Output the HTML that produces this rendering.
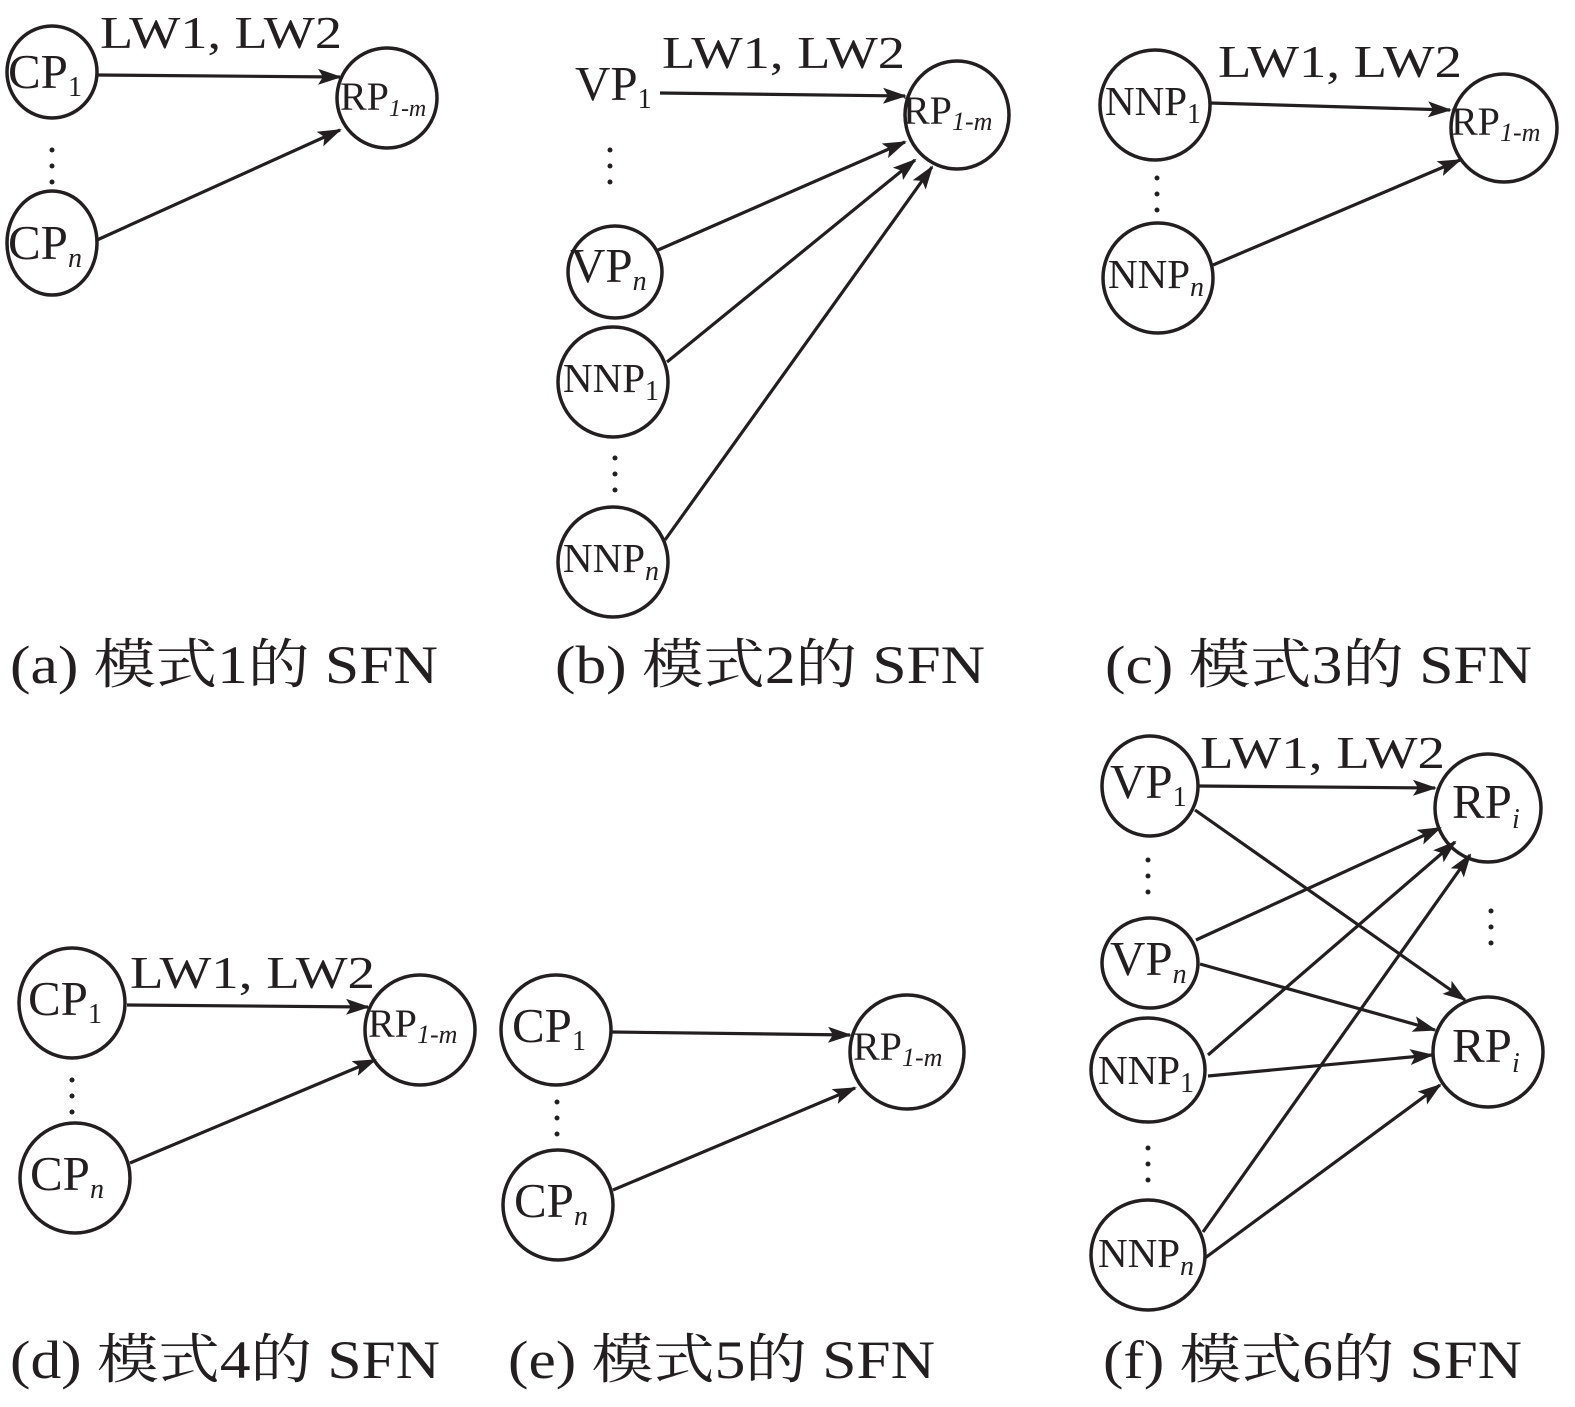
<!DOCTYPE html>
<html><head><meta charset="utf-8"><style>
html,body{margin:0;padding:0;background:#fff}
svg{display:block}
text{font-family:"Liberation Serif","Noto Serif CJK SC",serif;fill:#231f20}
.c{fill:none;stroke:#231f20;stroke-width:3.5}
.l{stroke:#231f20;stroke-width:3.2;marker-end:url(#b)}
.n{font-size:49px}
.s{font-size:28px}
.i{font-style:italic}
.cap{font-size:54px}
.lw{font-size:46px}
.nn{font-size:41px}
.rp{font-size:40px}
</style></head><body>
<svg width="1575" height="1407" viewBox="0 0 1575 1407" xmlns="http://www.w3.org/2000/svg">
<defs>
<marker id="b" markerWidth="24" markerHeight="16" refX="22" refY="8" orient="auto" markerUnits="userSpaceOnUse"><path d="M0,0 L24,8 L0,16 L5,8 z" fill="#231f20"/></marker></defs>

<!-- (a) -->
<ellipse class="c" cx="52" cy="72" rx="45" ry="46"/>
<text x="8" y="88" class="n">CP<tspan class="s" dy="8">1</tspan></text>
<ellipse class="c" cx="52" cy="243" rx="45" ry="52"/>
<text x="8" y="259" class="n">CP<tspan class="s i" dy="8">n</tspan></text>
<ellipse class="c" cx="387" cy="98" rx="50" ry="50"/>
<text x="340" y="110" class="rp">RP<tspan class="i" style="font-size:24px" dy="6">1-m</tspan></text>
<line class="l" x1="97" y1="75" x2="340" y2="77"/>
<line class="l" x1="97" y1="240" x2="340" y2="130"/>
<text x="100" y="48" class="lw" textLength="242" lengthAdjust="spacingAndGlyphs">LW1, LW2</text>
<g fill="#231f20"><circle cx="52" cy="150" r="2.5"/><circle cx="52" cy="166" r="2.5"/><circle cx="52" cy="182" r="2.5"/></g>
<text x="10" y="683" class="cap" textLength="428" lengthAdjust="spacingAndGlyphs">(a) 模式1的 SFN</text>

<!-- (b) -->
<text x="575" y="100" class="n">VP<tspan class="s" dy="8">1</tspan></text>
<ellipse class="c" cx="957" cy="115" rx="52" ry="54"/>
<text x="903" y="124" class="rp">RP<tspan class="i" style="font-size:26px" dy="6">1-m</tspan></text>
<line class="l" x1="660" y1="93" x2="905" y2="96"/>
<text x="662" y="68" class="lw" textLength="243" lengthAdjust="spacingAndGlyphs">LW1, LW2</text>
<g fill="#231f20"><circle cx="610" cy="150" r="2.5"/><circle cx="610" cy="166" r="2.5"/><circle cx="610" cy="182" r="2.5"/>
<circle cx="615" cy="458" r="2.5"/><circle cx="615" cy="474" r="2.5"/><circle cx="615" cy="490" r="2.5"/></g>
<ellipse class="c" cx="615" cy="272" rx="47" ry="46"/>
<text x="570" y="282" class="n">VP<tspan class="s i" dy="8">n</tspan></text>
<ellipse class="c" cx="613" cy="382" rx="55" ry="55"/>
<text x="563" y="392" class="nn">NNP<tspan class="s" dy="8">1</tspan></text>
<ellipse class="c" cx="613" cy="562" rx="55" ry="55"/>
<text x="563" y="572" class="nn">NNP<tspan class="s i" dy="8">n</tspan></text>
<line class="l" x1="658" y1="250" x2="905" y2="142"/>
<line class="l" x1="667" y1="362" x2="915" y2="160"/>
<line class="l" x1="665" y1="540" x2="932" y2="167"/>
<text x="555" y="683" class="cap" textLength="430" lengthAdjust="spacingAndGlyphs">(b) 模式2的 SFN</text>

<!-- (c) -->
<ellipse class="c" cx="1155" cy="105" rx="55" ry="55"/>
<text x="1105" y="115" class="nn">NNP<tspan class="s" dy="8">1</tspan></text>
<ellipse class="c" cx="1158" cy="278" rx="55" ry="55"/>
<text x="1108" y="288" class="nn">NNP<tspan class="s i" dy="8">n</tspan></text>
<ellipse class="c" cx="1504" cy="128" rx="53" ry="54"/>
<text x="1451" y="135" class="rp">RP<tspan class="i" style="font-size:26px" dy="6">1-m</tspan></text>
<line class="l" x1="1210" y1="103" x2="1450" y2="110"/>
<line class="l" x1="1213" y1="265" x2="1460" y2="160"/>
<text x="1218" y="77" class="lw" textLength="244" lengthAdjust="spacingAndGlyphs">LW1, LW2</text>
<g fill="#231f20"><circle cx="1157" cy="178" r="2.5"/><circle cx="1157" cy="194" r="2.5"/><circle cx="1157" cy="210" r="2.5"/></g>
<text x="1105" y="683" class="cap" textLength="427" lengthAdjust="spacingAndGlyphs">(c) 模式3的 SFN</text>

<!-- (d) -->
<ellipse class="c" cx="72" cy="1003" rx="53" ry="55"/>
<text x="28" y="1015" class="n">CP<tspan class="s" dy="8">1</tspan></text>
<ellipse class="c" cx="75" cy="1178" rx="55" ry="55"/>
<text x="30" y="1190" class="n">CP<tspan class="s i" dy="8">n</tspan></text>
<ellipse class="c" cx="420" cy="1030" rx="55" ry="55"/>
<text x="368" y="1037" class="rp">RP<tspan class="i" style="font-size:26px" dy="6">1-m</tspan></text>
<line class="l" x1="127" y1="1005" x2="368" y2="1007"/>
<line class="l" x1="130" y1="1163" x2="375" y2="1060"/>
<text x="130" y="988" class="lw" textLength="245" lengthAdjust="spacingAndGlyphs">LW1, LW2</text>
<g fill="#231f20"><circle cx="72" cy="1080" r="2.5"/><circle cx="72" cy="1096" r="2.5"/><circle cx="72" cy="1112" r="2.5"/></g>
<text x="10" y="1378" class="cap" textLength="430" lengthAdjust="spacingAndGlyphs">(d) 模式4的 SFN</text>

<!-- (e) -->
<ellipse class="c" cx="556" cy="1030" rx="55" ry="55"/>
<text x="512" y="1042" class="n">CP<tspan class="s" dy="8">1</tspan></text>
<ellipse class="c" cx="558" cy="1205" rx="55" ry="55"/>
<text x="514" y="1217" class="n">CP<tspan class="s i" dy="8">n</tspan></text>
<ellipse class="c" cx="907" cy="1052" rx="57" ry="57"/>
<text x="853" y="1060" class="rp">RP<tspan class="i" style="font-size:26px" dy="6">1-m</tspan></text>
<line class="l" x1="612" y1="1032" x2="850" y2="1035"/>
<line class="l" x1="613" y1="1190" x2="855" y2="1088"/>
<g fill="#231f20"><circle cx="557" cy="1102" r="2.5"/><circle cx="557" cy="1118" r="2.5"/><circle cx="557" cy="1134" r="2.5"/></g>
<text x="508" y="1378" class="cap" textLength="427" lengthAdjust="spacingAndGlyphs">(e) 模式5的 SFN</text>

<!-- (f) -->
<ellipse class="c" cx="1150" cy="786" rx="48" ry="50"/>
<text x="1110" y="798" class="n">VP<tspan class="s" dy="8">1</tspan></text>
<ellipse class="c" cx="1150" cy="963" rx="48" ry="45"/>
<text x="1110" y="975" class="n">VP<tspan class="s i" dy="8">n</tspan></text>
<ellipse class="c" cx="1148" cy="1070" rx="57" ry="52"/>
<text x="1098" y="1084" class="nn">NNP<tspan class="s" dy="8">1</tspan></text>
<ellipse class="c" cx="1148" cy="1255" rx="57" ry="55"/>
<text x="1098" y="1267" class="nn">NNP<tspan class="s i" dy="8">n</tspan></text>
<ellipse class="c" cx="1488" cy="808" rx="53" ry="54"/>
<text x="1452" y="818" class="n">RP<tspan class="s i" dy="10">i</tspan></text>
<ellipse class="c" cx="1488" cy="1052" rx="55" ry="55"/>
<text x="1452" y="1062" class="n">RP<tspan class="s i" dy="10">i</tspan></text>
<text x="1200" y="768" class="lw" textLength="245" lengthAdjust="spacingAndGlyphs">LW1, LW2</text>
<g fill="#231f20"><circle cx="1148" cy="860" r="2.5"/><circle cx="1148" cy="876" r="2.5"/><circle cx="1148" cy="892" r="2.5"/>
<circle cx="1148" cy="1148" r="2.5"/><circle cx="1148" cy="1164" r="2.5"/><circle cx="1148" cy="1180" r="2.5"/>
<circle cx="1491" cy="911" r="2.5"/><circle cx="1491" cy="927" r="2.5"/><circle cx="1491" cy="943" r="2.5"/></g>
<line class="l" x1="1198" y1="786" x2="1435" y2="788"/>
<line class="l" x1="1195" y1="810" x2="1465" y2="1000"/>
<line class="l" x1="1196" y1="940" x2="1440" y2="828"/>
<line class="l" x1="1200" y1="964" x2="1435" y2="1030"/>
<line class="l" x1="1208" y1="1055" x2="1455" y2="842"/>
<line class="l" x1="1208" y1="1076" x2="1432" y2="1055"/>
<line class="l" x1="1203" y1="1232" x2="1470" y2="855"/>
<line class="l" x1="1205" y1="1258" x2="1440" y2="1085"/>
<text x="1103" y="1378" class="cap" textLength="419" lengthAdjust="spacingAndGlyphs">(f) 模式6的 SFN</text>
</svg>
</body></html>
